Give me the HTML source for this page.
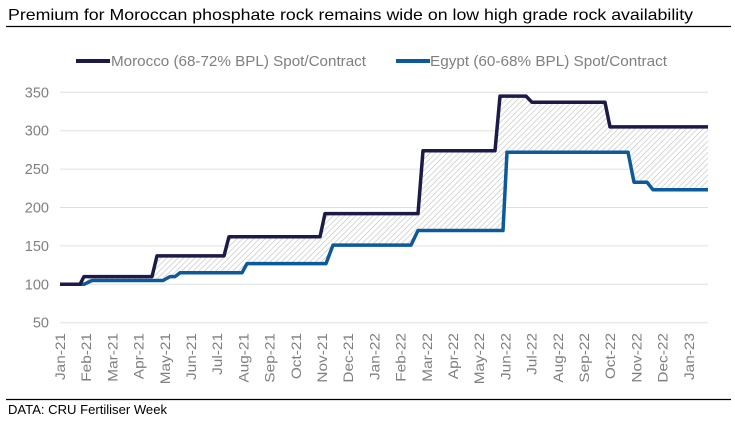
<!DOCTYPE html>
<html><head><meta charset="utf-8"><style>
html,body{margin:0;padding:0;background:#fff;}
svg{display:block;font-family:"Liberation Sans",Arial,sans-serif;}
</style></head><body>
<svg width="735" height="425" viewBox="0 0 735 425" xmlns="http://www.w3.org/2000/svg">
<defs>
<pattern id="h" patternUnits="userSpaceOnUse" width="4" height="4" patternTransform="rotate(45)">
<rect width="4" height="4" fill="#fff"/>
<line x1="0" y1="0" x2="0" y2="4" stroke="#b8b8b8" stroke-width="1.1"/>
</pattern>
</defs>
<text x="8" y="20" font-size="16" fill="#000" textLength="685" lengthAdjust="spacingAndGlyphs">Premium for Moroccan phosphate rock remains wide on low high grade rock availability</text>
<line x1="6" y1="26.5" x2="731" y2="26.5" stroke="#000" stroke-width="1.2"/>
<line x1="76" y1="61" x2="110" y2="61" stroke="#1c1a47" stroke-width="4"/>
<text x="111" y="66" font-size="14.5" fill="#7f7f7f" textLength="255" lengthAdjust="spacingAndGlyphs">Morocco (68-72% BPL) Spot/Contract</text>
<line x1="396" y1="61" x2="430" y2="61" stroke="#0d5a9a" stroke-width="4"/>
<text x="430" y="66" font-size="14.5" fill="#7f7f7f" textLength="237" lengthAdjust="spacingAndGlyphs">Egypt (60-68% BPL) Spot/Contract</text>
<g stroke="#e0e0e0" stroke-width="1">
<line x1="60" y1="92.3" x2="708" y2="92.3"/><line x1="60" y1="130.7" x2="708" y2="130.7"/>
<line x1="60" y1="169.1" x2="708" y2="169.1"/><line x1="60" y1="207.5" x2="708" y2="207.5"/>
<line x1="60" y1="245.9" x2="708" y2="245.9"/><line x1="60" y1="284.3" x2="708" y2="284.3"/>
<line x1="60" y1="322.7" x2="708" y2="322.7"/>
</g>
<g font-size="14.5" fill="#7f7f7f" text-anchor="end">
<text x="49" y="97.3">350</text><text x="49" y="135.7">300</text><text x="49" y="174.1">250</text>
<text x="49" y="212.5">200</text><text x="49" y="250.9">150</text><text x="49" y="289.3">100</text><text x="49" y="327.7">50</text>
</g>
<polygon fill="url(#h)" points="60,284.3 80,284.3 84,276.6 152,276.6 157,255.9 224,255.9 229,236.7 320,236.7 325,213.6 418,213.6 423,150.7 495,150.7 500,96.1 526,96.1 532,102.3 605,102.3 610,126.9 708,126.9 708,189.8 653,189.8 647,182.2 634,182.2 628,152.2 507,152.2 503,230.5 418,230.5 411,245.1 333,245.1 326,263.6 247,263.6 242,272.8 180,272.8 175,276.6 170,276.6 163,280.5 92,280.5 84,284.3"/>
<polyline fill="none" stroke="#0d5a9a" stroke-width="3.5" stroke-linejoin="round" points="60,284.3 84,284.3 92,280.5 163,280.5 170,276.6 175,276.6 180,272.8 242,272.8 247,263.6 326,263.6 333,245.1 411,245.1 418,230.5 503,230.5 507,152.2 628,152.2 634,182.2 647,182.2 653,189.8 708,189.8"/>
<polyline fill="none" stroke="#1c1a47" stroke-width="3.5" stroke-linejoin="round" points="60,284.3 80,284.3 84,276.6 152,276.6 157,255.9 224,255.9 229,236.7 320,236.7 325,213.6 418,213.6 423,150.7 495,150.7 500,96.1 526,96.1 532,102.3 605,102.3 610,126.9 708,126.9"/>
<g font-size="14" fill="#7f7f7f" text-anchor="end">
<text transform="translate(65,333) rotate(-90) scale(1.1,1)">Jan-21</text>
<text transform="translate(91.2,333) rotate(-90) scale(1.1,1)">Feb-21</text>
<text transform="translate(117.4,333) rotate(-90) scale(1.1,1)">Mar-21</text>
<text transform="translate(143.6,333) rotate(-90) scale(1.1,1)">Apr-21</text>
<text transform="translate(169.8,333) rotate(-90) scale(1.1,1)">May-21</text>
<text transform="translate(196,333) rotate(-90) scale(1.1,1)">Jun-21</text>
<text transform="translate(222.2,333) rotate(-90) scale(1.1,1)">Jul-21</text>
<text transform="translate(248.4,333) rotate(-90) scale(1.1,1)">Aug-21</text>
<text transform="translate(274.6,333) rotate(-90) scale(1.1,1)">Sep-21</text>
<text transform="translate(300.8,333) rotate(-90) scale(1.1,1)">Oct-21</text>
<text transform="translate(327,333) rotate(-90) scale(1.1,1)">Nov-21</text>
<text transform="translate(353.2,333) rotate(-90) scale(1.1,1)">Dec-21</text>
<text transform="translate(379.4,333) rotate(-90) scale(1.1,1)">Jan-22</text>
<text transform="translate(405.6,333) rotate(-90) scale(1.1,1)">Feb-22</text>
<text transform="translate(431.8,333) rotate(-90) scale(1.1,1)">Mar-22</text>
<text transform="translate(458,333) rotate(-90) scale(1.1,1)">Apr-22</text>
<text transform="translate(484.2,333) rotate(-90) scale(1.1,1)">May-22</text>
<text transform="translate(510.4,333) rotate(-90) scale(1.1,1)">Jun-22</text>
<text transform="translate(536.6,333) rotate(-90) scale(1.1,1)">Jul-22</text>
<text transform="translate(562.8,333) rotate(-90) scale(1.1,1)">Aug-22</text>
<text transform="translate(589,333) rotate(-90) scale(1.1,1)">Sep-22</text>
<text transform="translate(615.2,333) rotate(-90) scale(1.1,1)">Oct-22</text>
<text transform="translate(641.4,333) rotate(-90) scale(1.1,1)">Nov-22</text>
<text transform="translate(667.6,333) rotate(-90) scale(1.1,1)">Dec-22</text>
<text transform="translate(693.8,333) rotate(-90) scale(1.1,1)">Jan-23</text>
</g>
<line x1="6" y1="399.5" x2="731" y2="399.5" stroke="#000" stroke-width="1.2"/>
<text x="8" y="414" font-size="12.5" fill="#000" textLength="159" lengthAdjust="spacingAndGlyphs">DATA: CRU Fertiliser Week</text>
</svg>
</body></html>
